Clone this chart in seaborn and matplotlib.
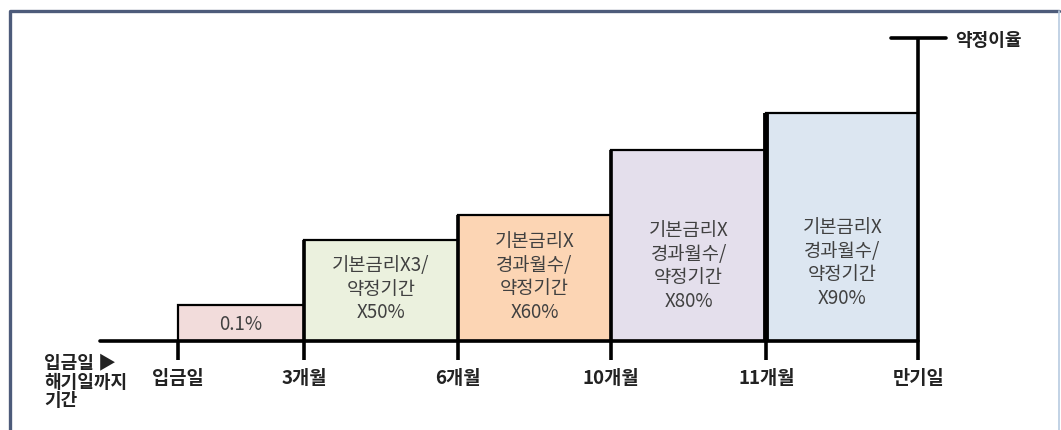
import matplotlib
matplotlib.use("Agg")
import matplotlib.pyplot as plt
import seaborn as sns
from matplotlib.lines import Line2D

# period boundaries (relative units) and step heights
boundaries = [0.0, 0.83, 1.84, 2.85, 3.87, 4.87]
tick_labels = ["입금일", "3개월", "6개월", "10개월", "11개월", "만기일"]
heights = [0.36, 1.01, 1.26, 1.91, 2.28]
contract_rate = 3.03
bar_texts = [
    "0.1%",
    "기본금리X3/\n약정기간\nX50%",
    "기본금리X\n경과월수/\n약정기간\nX60%",
    "기본금리X\n경과월수/\n약정기간\nX80%",
    "기본금리X\n경과월수/\n약정기간\nX90%",
]
colors = ["#f2dcdb", "#ebf1de", "#fcd5b4", "#e4dfec", "#dce6f1"]
text_y = [0.16, 0.52, 0.64, 0.75, 0.78]

sns.set_theme(style="white")
plt.rcParams["font.family"] = ["Noto Sans CJK KR", "DejaVu Sans"]

fig = plt.figure(figsize=(10.61, 4.30), dpi=100)
ax = fig.add_axes([0, 0, 1, 1])
ax.set_xlim(-1.171, 5.809)
ax.set_ylim(-0.89, 3.41)
ax.axis("off")

# outer frame (dark top/left, light right edge)
fx0, fx1 = 10 / 1061, 1059 / 1061
fy0, fy1 = 0.0, 1 - 11 / 430
fig.lines.append(Line2D([fx0, fx0, fx1], [fy0, fy1, fy1], transform=fig.transFigure,
                        color="#4d5b7a", linewidth=2.4))
fig.lines.append(Line2D([fx1, fx1], [fy0, fy1], transform=fig.transFigure,
                        color="#b8cbe0", linewidth=1.2))

starts = boundaries[:-1]
widths = [b - a for a, b in zip(boundaries[:-1], boundaries[1:])]
ax.bar(starts, heights, width=widths, align="edge", color=colors,
       edgecolor="black", linewidth=1.6, zorder=2)

# thicker separators between steps
for i, x in enumerate(boundaries[1:-1]):
    lw = 4.2 if i == 3 else 2.6
    ax.plot([x, x], [0, max(heights[i], heights[i + 1])], color="black",
            linewidth=lw, zorder=3, solid_capstyle="butt")

# baseline
ax.plot([-0.513, boundaries[-1]], [0, 0], color="black", linewidth=2.6, zorder=4)
# ticks
for x in boundaries:
    ax.plot([x, x], [0, -0.19], color="black", linewidth=2.6, zorder=4,
            solid_capstyle="butt")
# contract rate line
ax.plot([boundaries[-1], boundaries[-1]], [0, contract_rate], color="black",
        linewidth=2.6, zorder=4, solid_capstyle="butt")
ax.plot([boundaries[-1] - 0.18, boundaries[-1] + 0.18], [contract_rate, contract_rate],
        color="black", linewidth=2.6, zorder=4)
ax.text(boundaries[-1] + 0.245, contract_rate - 0.03, "약정이율", fontsize=13,
        fontweight="bold", color="#222222", va="center", ha="left")

# bar labels
for s, w, t, ty in zip(starts, widths, bar_texts, text_y):
    ax.text(s + w / 2, ty, t, fontsize=13.5, color="#404040", ha="center",
            va="center", linespacing=1.15, zorder=5)

# tick labels
for x, lab in zip(boundaries, tick_labels):
    ax.text(x, -0.37, lab, fontsize=13.5, fontweight="bold", color="#222222",
            ha="center", va="center")

ax.text(-0.88, -0.41, "입금일 ▶\n해기일까지\n기간", fontsize=13, fontweight="bold",
        color="#222222", ha="left", va="center", linespacing=1.0)

fig.savefig("out.png", dpi=100, facecolor="white")
